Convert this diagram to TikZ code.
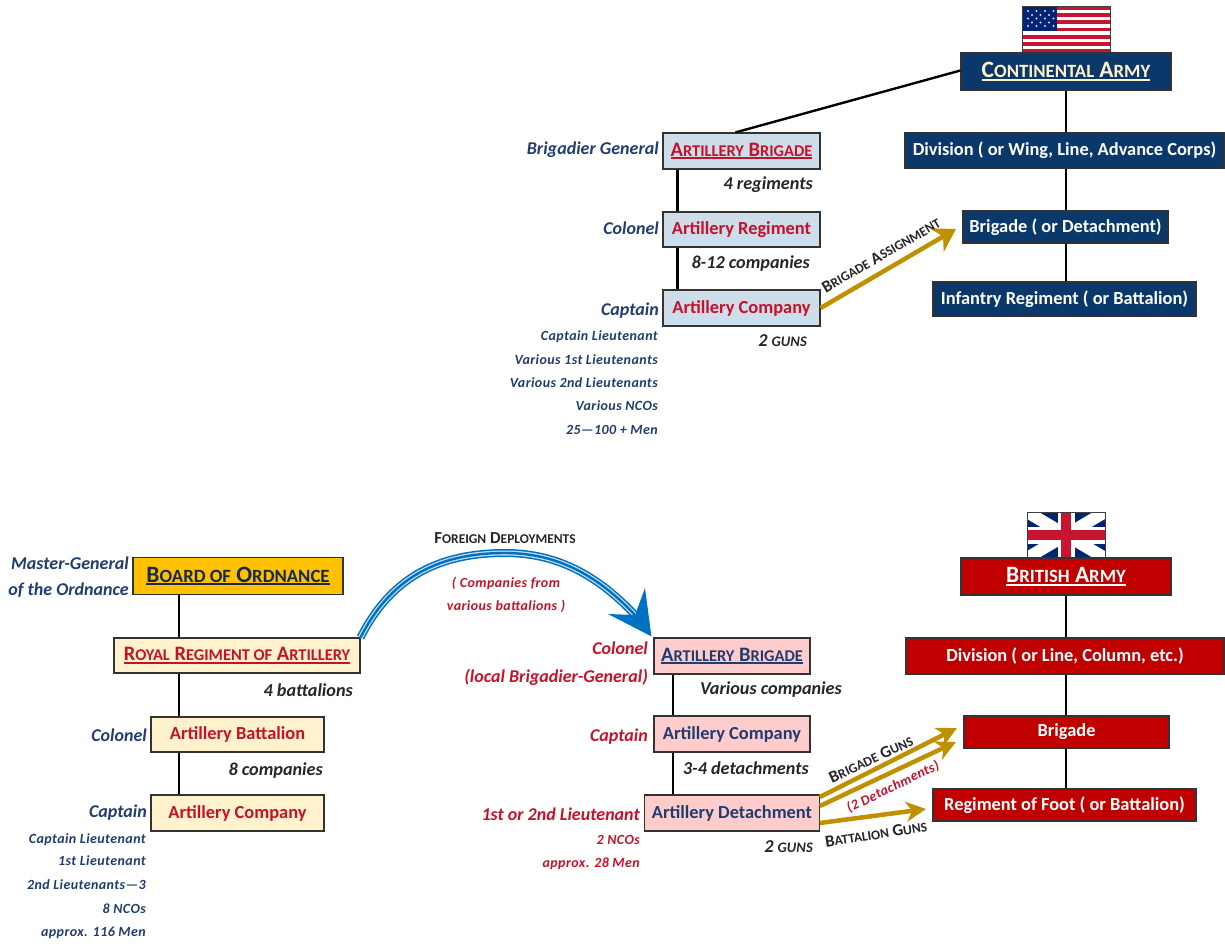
\documentclass[tikz,border=0pt]{standalone}
\usepackage{fontspec}
\setmainfont{Carlito}
\newfontface\capsface{Carlito Bold}[Scale=0.8]
\newfontface\capsitface{Carlito Bold Italic}[Scale=0.8]
\newcommand{\lsc}[1]{{\capsface #1}}
\newcommand{\barred}[1]{\vtop{\hbox{#1}\kern1.2pt\hrule height 1.8pt}}
\usetikzlibrary{arrows.meta, positioning}

\definecolor{armyblue}{RGB}{10,56,106}
\definecolor{armyred}{RGB}{192,0,0}
\definecolor{ordgold}{RGB}{255,192,0}
\definecolor{creamfill}{RGB}{255,242,204}
\definecolor{pinkfill}{RGB}{255,204,204}
\definecolor{paleblue}{RGB}{205,221,233}
\definecolor{rankblue}{RGB}{32,60,112}
\definecolor{rankred}{RGB}{197,18,42}
\definecolor{gunsgold}{RGB}{191,144,0}
\definecolor{deployblue}{RGB}{0,112,192}
\definecolor{cream}{RGB}{255,242,204}
\definecolor{flagred}{RGB}{200,20,48}
\definecolor{flagblue}{RGB}{0,36,115}

\tikzset{
  unit/.style={draw=black!80,line width=1.2pt,inner sep=0pt,minimum height=36pt,font=\fontsize{18.4}{20}\selectfont\bfseries},
  navy/.style={unit,fill=armyblue,text=white},
  crimson/.style={unit,fill=armyred,text=white},
  rank/.style={anchor=east,inner sep=0pt,font=\fontsize{18}{20}\selectfont\bfseries\itshape},
  minor/.style={inner sep=0pt,font=\fontsize{14}{16}\selectfont\bfseries\itshape\addfontfeatures{LetterSpace=3}},
  minorlist/.style={minor,anchor=east},
  count/.style={anchor=east,inner sep=0pt,text=black!85,font=\fontsize{18.2}{20}\selectfont\bfseries\itshape},
  tag/.style={inner sep=0pt,text=black!85,font=\fontsize{16.8}{18}\selectfont\bfseries},
  headbig/.style={font=\fontsize{23.4}{26}\selectfont\bfseries},
  headmid/.style={font=\fontsize{20.5}{24}\selectfont\bfseries},
  link/.style={line width=2.2pt,black},
  guns/.style={line width=4.5pt,gunsgold,-{Stealth[length=20pt,width=20pt,inset=6pt]}},
}

\begin{document}
\begin{tikzpicture}[x=1pt,y=-1pt]
\useasboundingbox (0,0) rectangle (1225,944);
%american flag
\begin{scope}
\clip (1022,6) rectangle (1110,53);
\fill[white] (1022,6) rectangle (1110,53);
\foreach \s in {0,2,...,12}
  \fill[flagred] (1022,6+\s*3.615) rectangle (1110,6+\s*3.615+3.615);
\fill[flagblue] (1022,6) rectangle (1057,31);
\foreach \i in {0,1,2,3} {
  \foreach \j in {0,1,2}
    \fill[white!85!flagblue] (1028+\i*8.5,11+\j*7.5) circle (1.2pt);
}
\foreach \i in {0,1,2} {
  \foreach \j in {0,1}
    \fill[white!85!flagblue] (1032+\i*8.5,15+\j*7.5) circle (1.2pt);
}
\end{scope}
\draw[black!75,line width=0.8pt] (1022,6) rectangle (1110,53);
%british flag
\begin{scope}
\clip (1027,512) rectangle (1105,558);
\fill[flagblue] (1027,512) rectangle (1105,558);
\draw[white,line width=12pt] (1027,512) -- (1105,558);
\draw[white,line width=12pt] (1027,558) -- (1105,512);
\draw[white,line width=17pt] (1066,512) -- (1066,558);
\draw[white,line width=17pt] (1027,535) -- (1105,535);
\draw[flagred,line width=10pt] (1066,512) -- (1066,558);
\draw[flagred,line width=10pt] (1027,535) -- (1105,535);
\end{scope}
\draw[black!75,line width=0.8pt] (1027,512) rectangle (1105,558);
%continental army
\node[navy,headbig,minimum width=210pt,minimum height=37pt] (carmy) at (1066,71.5) {\textcolor{cream}{\barred{C\lsc{ONTINENTAL} A\lsc{RMY}}}};
\node[navy,minimum width=319pt,minimum height=35pt] (cdiv) at (1064.5,150.5) {Division ( or Wing, Line, Advance Corps)};
\node[navy,minimum width=205pt,minimum height=32pt] (cbrig) at (1065.5,227) {Brigade ( or Detachment)};
\node[navy,minimum width=263pt,minimum height=34pt] (cinf) at (1064.5,299) {Infantry Regiment ( or Battalion)};
\coordinate (cline) at (1066,200);
\draw[link] (carmy.south -| cline) -- (cdiv.north -| cline);
\draw[link] (cdiv.south -| cline) -- (cbrig.north -| cline);
\draw[link] (cbrig.south -| cline) -- (cinf.north -| cline);
%continental artillery
\node[unit,headmid,fill=paleblue,text=rankred,minimum width=157pt] (abrig) at (741.5,151) {\barred{A\lsc{RTILLERY} B\lsc{RIGADE}}};
\node[unit,fill=paleblue,text=rankred,minimum width=157pt,minimum height=35pt] (areg) at (741.5,229.5) {Artillery Regiment};
\node[unit,fill=paleblue,text=rankred,minimum width=157pt] (acomp) at (741.5,308) {Artillery Company};
\coordinate (aline) at (677.5,200);
\draw[link] (abrig.south -| aline) -- (areg.north -| aline);
\draw[link] (areg.south -| aline) -- (acomp.north -| aline);
\draw[line width=2.4pt,black] (carmy.west) ++(0,-1) -- ([xshift=-6pt]abrig.north);
\node[rank,text=rankblue] (rbg) at (659,150) {Brigadier General};
\node[rank,text=rankblue] (rcol) at (659,228) {Colonel};
\node[rank,text=rankblue] (rcap) at (659,311) {Captain};
\node[count] (n4reg) at (813,185) {4 regiments};
\node[count] (n8co) at (810,264) {8-12 companies};
\node[count] (n2g) at (807,341) {2 {\capsitface GUNS}};
\foreach \y/\t in {337/Captain Lieutenant,360/Various 1st Lieutenants,383/Various 2nd Lieutenants,406/Various NCOs,430/25—100 + Men}
  \node[minorlist,text=rankblue] at (658,\y) {\t};
%brigade assignment
\coordinate (atip) at (956,229);
\draw[guns,-{Stealth[length=22pt,width=27pt,inset=7pt]}] (acomp.east) -- (atip);
\node[tag,rotate=30] (tassign) at (881,255) {B\lsc{RIGADE} A\lsc{SSIGNMENT}};
%board of ordnance
\node[unit,headbig,fill=ordgold,text=rankblue!70!black,minimum width=210pt,minimum height=37pt] (board) at (238,576) {\barred{B\lsc{OARD OF} O\lsc{RDNANCE}}};
\node[unit,headmid,fill=creamfill,text=rankred,minimum width=246pt,minimum height=35pt] (royal) at (237,655.5) {\barred{R\lsc{OYAL} R\lsc{EGIMENT OF} A\lsc{RTILLERY}}};
\node[unit,fill=creamfill,text=rankred,minimum width=173pt,minimum height=35pt] (bbat) at (237.5,734.5) {Artillery Battalion};
\node[unit,fill=creamfill,text=rankred,minimum width=173pt] (bcomp) at (237.5,813) {Artillery Company};
\coordinate (bline) at (179,700);
\draw[link] (board.south -| bline) -- (royal.north -| bline);
\draw[link] (royal.south -| bline) -- (bbat.north -| bline);
\draw[link] (bbat.south -| bline) -- (bcomp.north -| bline);
\node[rank,text=rankblue] (rmg) at (129,563) {Master-General};
\node[rank,text=rankblue] (rord) at (129,590) {of the Ordnance};
\node[rank,text=rankblue] (rbcol) at (147,735) {Colonel};
\node[rank,text=rankblue] (rbcap) at (147,813) {Captain};
\node[count] (n4bat) at (353,690) {4 battalions};
\node[count] (n8bco) at (323,771) {8 companies};
\foreach \y/\t in {840/Captain Lieutenant,861/1st Lieutenant,885/2nd Lieutenants—3,909/8 NCOs,933/approx. 116 Men}
  \node[minorlist,text=rankblue] at (146,\y) {\t};
%foreign deployments
\node[unit,headmid,fill=pinkfill,text=rankblue,minimum width=156pt] (fbrig) at (732,656) {\barred{A\lsc{RTILLERY} B\lsc{RIGADE}}};
\node[unit,fill=pinkfill,text=rankblue,minimum width=156pt] (fcomp) at (732,734) {Artillery Company};
\node[unit,fill=pinkfill,text=rankblue,minimum width=174.5pt] (fdet) at (732,813) {Artillery Detachment};
\coordinate (fline) at (673,700);
\draw[link] (fbrig.south -| fline) -- (fcomp.north -| fline);
\draw[link] (fcomp.south -| fline) -- (fdet.north -| fline);
\coordinate (fnotch) at (635,615);
\coordinate (ftop) at (505,553);
\foreach \w/\c in {8pt/deployblue,5pt/white!75!deployblue,2.4pt/deployblue}
  \draw[\c,line width=\w] (royal.north east) .. controls (392,575) and (442,553) .. (ftop) .. controls (560,553) and (600,578) .. (fnotch);
\fill[deployblue] (fbrig.north west) ++(-2,-1) -- (645,588) -- (fnotch) -- (608,614) -- cycle;
\node[tag] (tforeign) at (505,538) {F\lsc{OREIGN} D\lsc{EPLOYMENTS}};
\node[minor,text=rankred] (tcomp) at (506,583) {( Companies from};
\node[minor,text=rankred] (tvar) at (506,606) {various battalions )};
\node[rank,text=rankred] (rfcol) at (648,648) {Colonel};
\node[rank,text=rankred] (rflocal) at (648,677) {(local Brigadier-General)};
\node[rank,text=rankred] (rfcap) at (648,737) {Captain};
\node[rank,text=rankred] (rflt) at (640,814) {1st or 2nd Lieutenant};
\node[minorlist,text=rankred] (rfnco) at (640,840) {2 NCOs};
\node[minorlist,text=rankred] (rfmen) at (640,864) {approx. 28 Men};
\node[count] (nvar) at (842,690) {Various companies};
\node[count] (n34) at (809,768) {3-4 detachments};
\node[count] (n2fg) at (813,847) {2 {\capsitface GUNS}};
%british army
\node[crimson,headbig,minimum width=210pt,minimum height=37pt] (barmy) at (1066,576.5) {\barred{B\lsc{RITISH} A\lsc{RMY}}};
\node[crimson,minimum width=318pt] (bdiv) at (1065,656) {Division ( or Line, Column, etc.)};
\node[crimson,minimum width=205pt,minimum height=32pt] (bbrig) at (1066.5,732) {Brigade};
\node[crimson,minimum width=263pt,minimum height=32pt] (bfoot) at (1064.5,805) {Regiment of Foot ( or Battalion)};
\coordinate (bfline) at (1066,700);
\draw[link] (barmy.south -| bfline) -- (bdiv.north -| bfline);
\draw[link] (bdiv.south -| bfline) -- (bbrig.north -| bfline);
\draw[link] (bbrig.south -| bfline) -- (bfoot.north -| bfline);
%gun assignments
\coordinate (gtipa) at (957,728);
\coordinate (gtipb) at (956,742);
\coordinate (gtipc) at (926,809);
\draw[guns] ([yshift=16pt]fdet.east) -- (gtipa);
\draw[guns] ([yshift=7pt]fdet.east) -- (gtipb);
\draw[guns] ([yshift=-10pt]fdet.east) -- (gtipc);
\node[tag,rotate=25] (tbg) at (871,759) {B\lsc{RIGADE} G\lsc{UNS}};
\node[minor,rotate=26,text=rankred] (tdet) at (893,787) {(2 Detachments)};
\node[tag,rotate=9] (tbat) at (876,834) {B\lsc{ATTALION} G\lsc{UNS}};
\end{tikzpicture}
\end{document}
